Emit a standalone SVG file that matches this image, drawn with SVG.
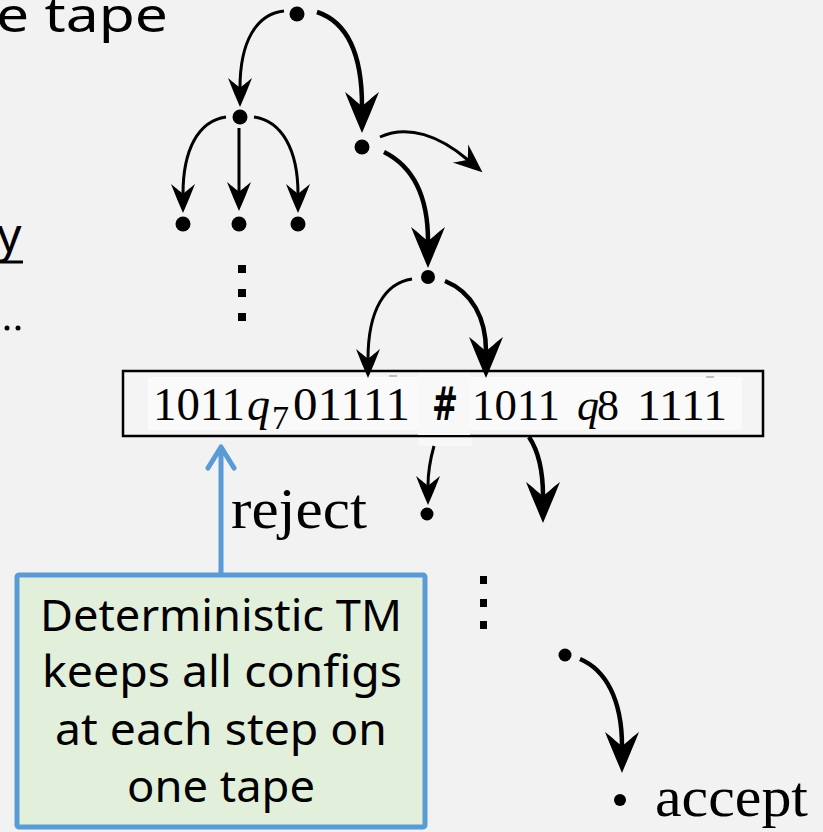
<svg xmlns="http://www.w3.org/2000/svg" width="823" height="832" viewBox="0 0 823 832">
  <style>
    .bg { fill: #f2f2f2; }
    .sans { font-family: "Noto Sans", "Open Sans", "DejaVu Sans", sans-serif; fill: #000; }
    .serif { font-family: "Liberation Serif", "DejaVu Serif", serif; fill: #000; }
    .dot { fill: #000; }
    .thin { fill: none; stroke: #000; stroke-width: 3; }
    .thick { fill: none; stroke: #000; stroke-width: 4.5; }
    .blue { fill: none; stroke: #5b9bd5; stroke-width: 5; stroke-linecap: round; stroke-linejoin: round; }
  </style>
  <defs>
    <!-- arrowheads: notch at the origin, tip ahead on +x -->
    <marker id="ah" markerUnits="userSpaceOnUse" viewBox="-12 -14 34 28" markerWidth="34" markerHeight="28" refX="0" refY="0" orient="auto" overflow="visible">
      <path d="M19,0 C10,-4 0,-8 -10,-12 C-5,-6 -2,-2 0,0 C-2,2 -5,6 -10,12 C0,8 10,4 19,0 Z" fill="#000"/>
    </marker>
    <marker id="ahb" markerUnits="userSpaceOnUse" viewBox="-16 -18 46 36" markerWidth="46" markerHeight="36" refX="0" refY="0" orient="auto" overflow="visible">
      <path d="M27,0 C15,-5 1,-11 -14,-17 C-7,-8 -2,-3 0,0 C-2,3 -7,8 -14,17 C1,11 15,5 27,0 Z" fill="#000"/>
    </marker>
  </defs>

  <rect class="bg" x="0" y="0" width="823" height="832"/>

  <!-- fragments of surrounding slide text -->
  <g id="slide-text">
    <text class="sans" x="-4" y="32" font-size="48" textLength="172" lengthAdjust="spacingAndGlyphs">e tape</text>
    <text class="sans" x="-3" y="252" font-size="48">y</text>
    <line x1="0" y1="262" x2="23" y2="262" stroke="#000" stroke-width="3"/>
    <circle class="dot" cx="7" cy="328" r="2.5"/>
    <circle class="dot" cx="18" cy="328" r="2.5"/>
  </g>

  <!-- computation tree nodes -->
  <g id="n-root"><circle class="dot" cx="297" cy="14" r="7.5"/></g>
  <g id="n-left"><circle class="dot" cx="240" cy="117" r="7.5"/></g>
  <g id="n-right"><circle class="dot" cx="362" cy="147" r="7.5"/></g>
  <g id="n-leaf1"><circle class="dot" cx="183" cy="224" r="7.5"/></g>
  <g id="n-leaf2"><circle class="dot" cx="239" cy="224" r="7.5"/></g>
  <g id="n-leaf3"><circle class="dot" cx="298" cy="224" r="7.5"/></g>
  <g id="n-vdots1">
    <rect class="dot" x="238" y="265" width="8" height="8"/>
    <rect class="dot" x="238" y="289" width="8" height="8"/>
    <rect class="dot" x="238" y="313" width="8" height="8"/>
  </g>
  <g id="n-mid"><circle class="dot" cx="428" cy="277" r="7"/></g>

  <!-- configuration tape -->
  <g id="tape">
    <rect x="123" y="371" width="640" height="65" fill="#f4f4f4" stroke="#000" stroke-width="2.5"/>
    <rect x="148" y="377" width="270" height="53" fill="#fafafa"/>
    <rect x="470" y="377" width="272" height="53" fill="#fafafa"/>
    <rect x="418" y="373" width="52" height="62" fill="#f8f8f8"/>
    <rect x="418" y="438" width="54" height="8" fill="#f8f8f8"/>
    <text class="serif" x="153" y="420" font-size="46" textLength="92" lengthAdjust="spacingAndGlyphs">1011</text>
    <text class="serif" x="247" y="420" font-size="46" font-style="italic">q</text>
    <text class="serif" x="272" y="429" font-size="34">7</text>
    <text class="serif" x="293" y="420" font-size="46" textLength="117" lengthAdjust="spacingAndGlyphs">01111</text>
    <text x="432" y="420" font-family="'DejaVu Sans', 'Liberation Sans', sans-serif" font-weight="bold" font-size="46" textLength="26" lengthAdjust="spacingAndGlyphs">#</text>
    <text class="serif" x="472" y="420" font-size="44" textLength="88" lengthAdjust="spacingAndGlyphs">1011</text>
    <text class="serif" x="577" y="420" font-size="44" font-style="italic">q</text>
    <text class="serif" x="597" y="420" font-size="44">8</text>
    <text class="serif" x="637" y="420" font-size="44" textLength="90" lengthAdjust="spacingAndGlyphs">1111</text>
    <line x1="389" y1="376" x2="397" y2="376" stroke="#888" stroke-width="1"/>
    <line x1="706" y1="377" x2="714" y2="377" stroke="#888" stroke-width="1"/>
  </g>

  <!-- lower branch nodes -->
  <g id="n-reject">
    <circle class="dot" cx="427" cy="514" r="6.5"/>
    <text class="serif" x="231" y="528" font-size="58" textLength="136" lengthAdjust="spacingAndGlyphs">reject</text>
  </g>
  <g id="n-vdots2">
    <rect class="dot" x="480" y="576" width="7" height="8"/>
    <rect class="dot" x="480" y="599" width="7" height="8"/>
    <rect class="dot" x="480" y="621" width="7" height="8"/>
  </g>
  <g id="n-late"><circle class="dot" cx="565" cy="655" r="6.5"/></g>
  <g id="n-accept">
    <circle class="dot" cx="620" cy="800" r="6"/>
    <text class="serif" x="655" y="816" font-size="58" textLength="153" lengthAdjust="spacingAndGlyphs">accept</text>
  </g>

  <!-- note box -->
  <g id="note">
    <rect x="17" y="575" width="408" height="252" rx="2" fill="#e2efda" stroke="#5b9bd5" stroke-width="5"/>
    <text class="sans" x="40" y="631" font-size="43" textLength="362" lengthAdjust="spacingAndGlyphs">Deterministic TM</text>
    <text class="sans" x="42" y="687" font-size="43" textLength="360" lengthAdjust="spacingAndGlyphs">keeps all configs</text>
    <text class="sans" x="55" y="745" font-size="43" textLength="332" lengthAdjust="spacingAndGlyphs">at each step on</text>
    <text class="sans" x="127" y="802" font-size="43" textLength="188" lengthAdjust="spacingAndGlyphs">one tape</text>
  </g>

  <!-- connectors -->
  <g id="connectors">
    <path class="thin" d="M284,11 C256,14 240,42 240,88" marker-end="url(#ah)"/>
    <path class="thick" d="M317,12 C347,22 362,52 362,106" marker-end="url(#ahb)"/>
    <path class="thin" d="M226,117 C198,121 183,150 183,194" marker-end="url(#ah)"/>
    <path class="thin" d="M239,128 L239,192" marker-end="url(#ah)"/>
    <path class="thin" d="M254,117 C282,121 298,150 298,194" marker-end="url(#ah)"/>
    <path class="thin" d="M380,137 C408,124 440,136 468,160" marker-end="url(#ah)"/>
    <path class="thick" d="M384,152 C412,166 428,195 428,241" marker-end="url(#ahb)"/>
    <path class="thin" d="M412,279 C385,283 368,310 368,359" marker-end="url(#ah)"/>
    <path class="thick" d="M445,281 C472,292 486,318 486,351" marker-end="url(#ahb)"/>
    <path class="thin" d="M434,446 C430,460 428,472 428,486" marker-end="url(#ah)"/>
    <path class="thick" d="M529,437 C539,452 543,470 543,496" marker-end="url(#ahb)"/>
    <path class="thick" d="M580,659 C606,670 622,700 622,746" marker-end="url(#ahb)"/>
    <path class="blue" d="M221,573 L221,449 M208,468 L221,447 L234,468"/>
  </g>
</svg>
